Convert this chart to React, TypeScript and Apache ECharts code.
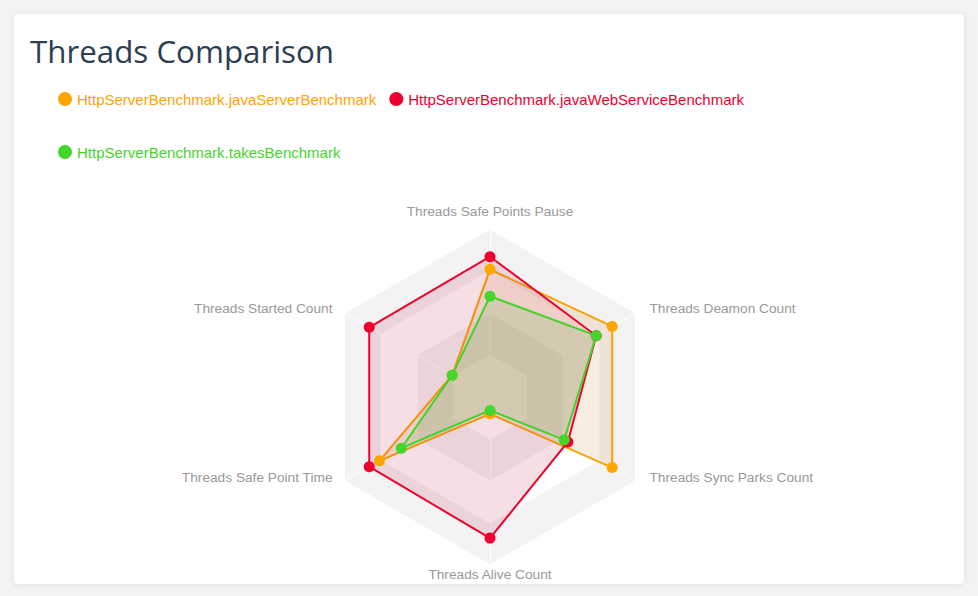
import React, { useEffect, useRef } from "react";
import * as echarts from "echarts";

const indicatorNames = [
  "Threads Safe Points Pause",
  "Threads Started Count",
  "Threads Safe Point Time",
  "Threads Alive Count",
  "Threads Sync Parks Count",
  "Threads Deamon Count",
];
const indicatorMax = [1, 1, 1, 1, 1, 1];

const seriesNames = [
  "HttpServerBenchmark.javaServerBenchmark",
  "HttpServerBenchmark.javaWebServiceBenchmark",
  "HttpServerBenchmark.takesBenchmark",
];
const seriesColors = ["#ffa500", "#f0002e", "#44d62c"];
const seriesFills = [
  "rgba(208,142,48,0.15)",
  "rgba(188,42,75,0.15)",
  "rgba(60,170,40,0.15)",
];

const javaServerValues = [0.76, 0.26, 0.76, 0.1, 0.84, 0.84];
const javaWebServiceValues = [0.835, 0.83, 0.83, 0.84, 0.535, 0.73];
const takesValues = [0.6, 0.26, 0.61, 0.08, 0.51, 0.73];

const allValues = [javaServerValues, javaWebServiceValues, takesValues];

// label style keys per indicator position (top, upper-left, lower-left, bottom, lower-right, upper-right)
const nameStyleKeys = ["top", "ul", "ll", "bottom", "lr", "ur"];

export default function App() {
  const ref = useRef<HTMLDivElement>(null);

  useEffect(() => {
    document.body.style.margin = "0";
    document.body.style.background = "#f3f3f3";
    if (!ref.current) return;
    const chart = echarts.init(ref.current, undefined, { renderer: "svg" });
    const font = "'Liberation Sans', Arial, sans-serif";
    const nameFs = 13.7;
    chart.setOption({
      animation: false,
      title: {
        text: "Threads Comparison",
        left: 11,
        top: 16,
        textStyle: {
          fontFamily: "'Open Sans', 'Noto Sans', sans-serif",
          fontSize: 31.3,
          fontWeight: "normal",
          color: "#2c3e50",
        },
      },
      legend: {
        left: 39,
        top: 60,
        width: 720,
        itemWidth: 14,
        itemHeight: 14,
        itemGap: 13,
        icon: "circle",
        data: seriesNames.map((n, i) => ({
          name: n,
          textStyle: { color: seriesColors[i] },
        })),
        textStyle: {
          fontFamily: font,
          fontSize: 15,
          lineHeight: 40,
        },
      },
      radar: {
        center: [476, 383],
        radius: 168,
        splitNumber: 4,
        startAngle: 90,
        shape: "polygon",
        indicator: indicatorNames.map((n, i) => ({ name: n, max: indicatorMax[i] })),
        nameGap: 0,
        axisName: {
          color: "#999",
          fontSize: nameFs,
          fontFamily: font,
          formatter: (name: string) => {
            const idx = indicatorNames.indexOf(name);
            return `{${nameStyleKeys[idx]}|${name}}`;
          },
          rich: {
            top: { color: "#999", fontSize: nameFs, fontFamily: font, padding: [0, 0, 11, 0] },
            bottom: { color: "#999", fontSize: nameFs, fontFamily: font, padding: [2, 0, 0, 0] },
            ul: { color: "#999", fontSize: nameFs, fontFamily: font, padding: [0, 12, 10, 0] },
            ll: { color: "#999", fontSize: nameFs, fontFamily: font, padding: [0, 12, 8, 0] },
            ur: { color: "#999", fontSize: nameFs, fontFamily: font, padding: [0, 0, 10, 14] },
            lr: { color: "#999", fontSize: nameFs, fontFamily: font, padding: [0, 0, 8, 14] },
          },
        },
        splitArea: {
          show: true,
          areaStyle: { color: ["#ffffff", "#f3f3f3", "#ffffff", "#f3f3f3"] },
        },
        splitLine: { lineStyle: { color: "#ffffff", width: 1 } },
        axisLine: { lineStyle: { color: "#ffffff", width: 1 } },
      },
      series: [
        {
          type: "radar",
          symbol: "circle",
          symbolSize: 11,
          data: seriesNames.map((n, i) => ({
            name: n,
            value: allValues[i],
            itemStyle: { color: seriesColors[i] },
            lineStyle: { color: seriesColors[i], width: 2 },
            areaStyle: { color: seriesFills[i], opacity: 1 },
          })),
        },
      ],
    });
    return () => chart.dispose();
  }, []);

  return (
    <div
      style={{
        position: "absolute",
        left: 14,
        top: 14,
        width: 950,
        height: 570,
        background: "#fff",
        borderRadius: 4,
        boxShadow: "0 1px 6px rgba(0,0,0,0.08)",
      }}
    >
      <div ref={ref} style={{ width: 950, height: 570 }} />
    </div>
  );
}
